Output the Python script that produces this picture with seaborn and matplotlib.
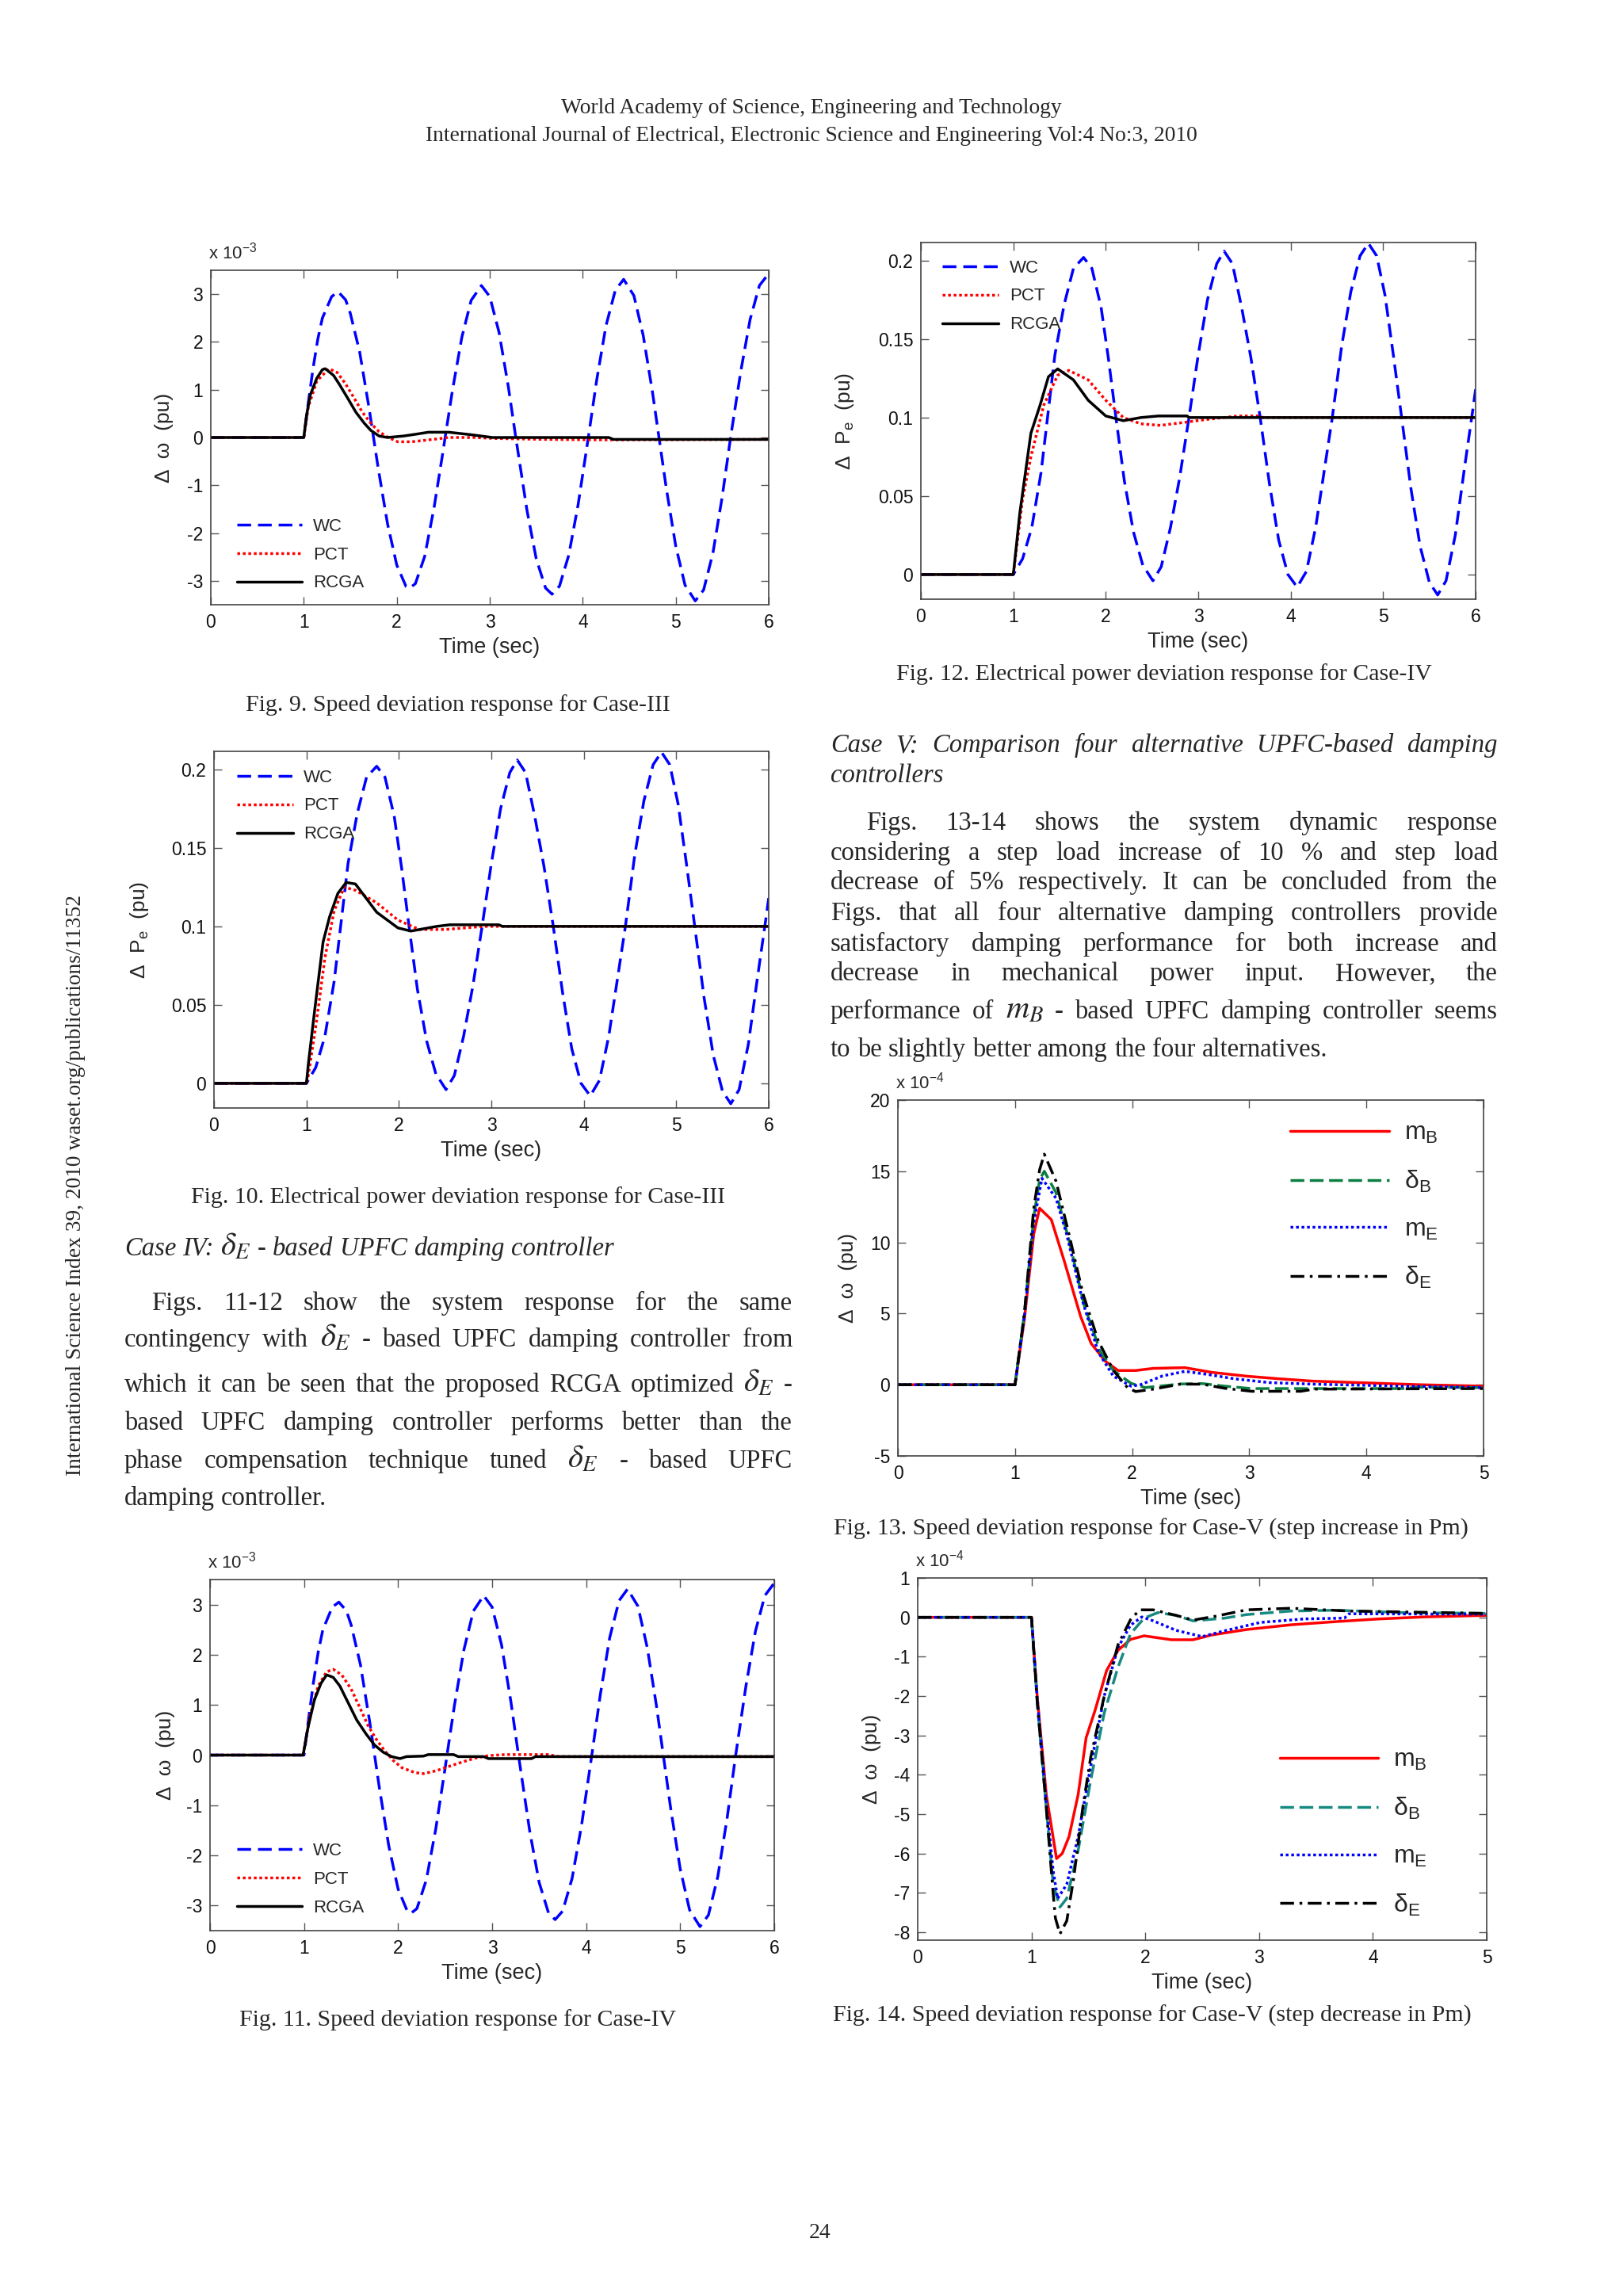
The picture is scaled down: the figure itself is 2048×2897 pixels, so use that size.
import matplotlib
matplotlib.use('Agg')
import matplotlib.pyplot as plt
import seaborn as sns

# page size in pixels (dpi 100)
W, H = 2048, 2897

# ---------------- data ----------------
# WC (no controller) speed deviation, x 1e-3 pu  (same curve in Fig. 9 and Fig. 11)
wc_dw_t = [0.0, 1.0, 1.05, 1.1, 1.15, 1.2, 1.3, 1.37, 1.45, 1.5, 1.6, 1.7, 1.75, 1.8, 1.9, 2.0, 2.1, 2.14, 2.2, 2.3,
           2.4, 2.5, 2.52, 2.6, 2.7, 2.8, 2.91, 3.0, 3.1, 3.2, 3.28, 3.4, 3.5, 3.6, 3.67, 3.75, 3.85, 3.95, 4.06, 4.15,
           4.25, 4.35, 4.44, 4.55, 4.65, 4.75, 4.82, 4.9, 5.0, 5.1, 5.21, 5.3, 5.4, 5.5, 5.59, 5.7, 5.8, 5.9, 6.0]
wc_dw = [0.0, 0.0, 0.75, 1.45, 2.05, 2.5, 2.95, 3.05, 2.88, 2.6, 1.8, 0.64, 0.0, -0.64, -1.8, -2.67, -3.12, -3.15, -3.06, -2.49,
         -1.48, -0.26, 0.0, 1.0, 2.1, 2.87, 3.18, 2.95, 2.2, 1.06, 0.0, -1.52, -2.54, -3.15, -3.28, -3.11, -2.46, -1.41, 0.0, 1.2,
         2.34, 3.08, 3.31, 2.97, 2.14, 0.95, 0.0, -1.08, -2.27, -3.09, -3.42, -3.19, -2.42, -1.24, 0.0, 1.39, 2.47, 3.18, 3.43]

# Fig. 9 (Case III) speed deviation
pct9_t = [0.0, 1.0, 1.05, 1.14, 1.27, 1.36, 1.45, 1.54, 1.63, 1.72, 1.81, 1.9, 2.01, 2.16, 2.39, 2.56, 2.83, 3.06, 3.59, 4.3, 6.0]
pct9 = [0.0, 0.0, 0.65, 1.18, 1.44, 1.36, 1.12, 0.83, 0.53, 0.3, 0.12, 0.01, -0.09, -0.09, -0.04, 0.0, 0.0, -0.02, -0.04, -0.05, -0.04]
rcga9_t = [0.0, 1.0, 1.03, 1.07, 1.14, 1.2, 1.23, 1.32, 1.38, 1.47, 1.56, 1.65, 1.72, 1.81, 1.9, 2.07, 2.21, 2.34, 2.56, 2.79,
           3.03, 4.28, 4.33, 6.0]
rcga9 = [0.0, 0.0, 0.47, 0.89, 1.24, 1.42, 1.44, 1.3, 1.12, 0.83, 0.53, 0.3, 0.15, 0.03, 0.0, 0.03, 0.07, 0.11, 0.11, 0.06,
         0.0, 0.0, -0.04, -0.04]

# Fig. 11 (Case IV) speed deviation
pct11_t = [0.0, 0.99, 1.06, 1.15, 1.24, 1.31, 1.4, 1.5, 1.59, 1.68, 1.77, 1.86, 1.95, 2.04, 2.18, 2.27, 2.41, 2.55, 2.68, 2.82,
           2.96, 3.14, 3.6, 3.7, 6.0]
pct11 = [0.0, 0.0, 0.76, 1.38, 1.66, 1.71, 1.6, 1.32, 0.96, 0.59, 0.31, 0.08, -0.11, -0.25, -0.35, -0.37, -0.31, -0.22, -0.14, -0.06,
         -0.01, 0.01, 0.01, -0.03, -0.03]
rcga11_t = [0.0, 0.99, 1.04, 1.11, 1.18, 1.24, 1.31, 1.38, 1.47, 1.56, 1.66, 1.75, 1.84, 1.93, 2.02, 2.09, 2.27, 2.32, 2.59, 2.64,
            2.91, 2.96, 3.42, 3.46, 6.0]
rcga11 = [0.0, 0.0, 0.53, 1.1, 1.43, 1.6, 1.55, 1.38, 1.04, 0.7, 0.42, 0.2, 0.06, -0.03, -0.07, -0.03, -0.02, 0.01, 0.01, -0.03,
          -0.03, -0.07, -0.07, -0.03, -0.03]

# WC electrical power deviation, pu (same curve in Fig. 10 and Fig. 12)
wc_pe_t = [0.0, 1.0, 1.1, 1.2, 1.3, 1.37, 1.45, 1.55, 1.65, 1.76, 1.85, 1.95, 2.03, 2.11, 2.2, 2.3, 2.4, 2.51, 2.6, 2.7,
           2.8, 2.9, 3.0, 3.1, 3.2, 3.28, 3.37, 3.47, 3.57, 3.67, 3.77, 3.87, 3.97, 4.07, 4.17, 4.27, 4.36, 4.45, 4.55, 4.65,
           4.75, 4.84, 4.93, 5.02, 5.11, 5.2, 5.3, 5.4, 5.5, 5.59, 5.68, 5.78, 5.88, 5.97, 6.0]
wc_pe = [0.0, 0.0, 0.01, 0.03, 0.065, 0.1, 0.14, 0.172, 0.195, 0.202, 0.195, 0.17, 0.137, 0.1, 0.06, 0.027, 0.006, -0.004, 0.005, 0.03,
         0.062, 0.1, 0.14, 0.175, 0.198, 0.206, 0.198, 0.17, 0.138, 0.1, 0.058, 0.022, 0.0, -0.008, 0.002, 0.03, 0.065, 0.1, 0.145, 0.18,
         0.203, 0.211, 0.203, 0.178, 0.14, 0.1, 0.055, 0.018, -0.005, -0.013, -0.004, 0.025, 0.068, 0.105, 0.118]

# Fig. 10 (Case III) power deviation
pct10_t = [0.0, 1.0, 1.02, 1.11, 1.2, 1.3, 1.41, 1.53, 1.76, 1.99, 2.22, 2.5, 2.92, 3.1, 6.0]
pct10 = [0.0, 0.0, 0.005, 0.04, 0.08, 0.11, 0.125, 0.123, 0.115, 0.104, 0.098, 0.098, 0.1, 0.1, 0.1]
rcga10_t = [0.0, 1.0, 1.02, 1.09, 1.18, 1.25, 1.34, 1.43, 1.53, 1.76, 1.99, 2.13, 2.41, 2.55, 3.08, 3.12, 6.0]
rcga10 = [0.0, 0.0, 0.012, 0.047, 0.09, 0.106, 0.121, 0.128, 0.127, 0.109, 0.099, 0.097, 0.1, 0.101, 0.101, 0.1, 0.1]

# Fig. 12 (Case IV) power deviation
pct12_t = [0.0, 1.0, 1.1, 1.19, 1.33, 1.48, 1.6, 1.81, 2.0, 2.19, 2.38, 2.59, 2.86, 3.12, 3.43, 3.66, 3.7, 6.0]
pct12 = [0.0, 0.0, 0.048, 0.075, 0.108, 0.127, 0.13, 0.124, 0.111, 0.1, 0.096, 0.095, 0.097, 0.099, 0.101, 0.101, 0.1, 0.1]
rcga12_t = [0.0, 1.0, 1.07, 1.19, 1.29, 1.38, 1.48, 1.65, 1.81, 2.0, 2.19, 2.38, 2.57, 2.88, 2.9, 6.0]
rcga12 = [0.0, 0.0, 0.039, 0.09, 0.108, 0.126, 0.131, 0.124, 0.111, 0.101, 0.098, 0.1, 0.101, 0.101, 0.1, 0.1]

# Fig. 13 (Case V, step increase) x 1e-4 pu
mb13_t = [0.0, 1.0, 1.08, 1.16, 1.21, 1.31, 1.42, 1.56, 1.65, 1.77, 1.88, 2.03, 2.18, 2.45, 2.68, 2.98, 3.25, 3.55, 3.93, 4.46, 5.0]
mb13 = [0.0, 0.0, 4.6, 10.6, 12.4, 11.6, 8.7, 4.8, 2.9, 1.66, 1.0, 1.0, 1.15, 1.2, 0.87, 0.6, 0.42, 0.25, 0.15, 0.0, -0.1]
db13_t = [0.0, 1.0, 1.08, 1.16, 1.21, 1.25, 1.35, 1.46, 1.59, 1.73, 1.84, 1.99, 2.11, 2.41, 2.6, 2.79, 3.02, 4.31, 4.46, 5.0]
db13 = [0.0, 0.0, 5.0, 11.8, 14.4, 15.0, 13.5, 10.2, 5.6, 2.3, 1.0, 0.1, -0.2, 0.05, 0.08, -0.1, -0.27, -0.27, -0.17, -0.2]
me13_t = [0.0, 1.0, 1.08, 1.16, 1.23, 1.35, 1.44, 1.58, 1.71, 1.84, 1.99, 2.07, 2.26, 2.45, 2.64, 2.87, 3.17, 3.55, 4.31, 5.0]
me13 = [0.0, 0.0, 4.8, 11.4, 14.5, 13.1, 10.6, 5.8, 2.3, 0.6, -0.1, 0.0, 0.62, 0.94, 0.73, 0.42, 0.15, 0.04, -0.1, -0.2]
de13_t = [0.0, 1.0, 1.08, 1.16, 1.21, 1.25, 1.35, 1.46, 1.58, 1.71, 1.84, 1.96, 2.03, 2.18, 2.41, 2.6, 2.79, 3.02, 3.44, 3.55, 5.0]
de13 = [0.0, 0.0, 5.0, 12.4, 15.1, 16.2, 14.3, 10.6, 6.4, 3.1, 1.0, -0.2, -0.48, -0.31, 0.04, 0.04, -0.25, -0.46, -0.46, -0.31, -0.27]

# Fig. 14 (Case V, step decrease) x 1e-4 pu
mb14_t = [0.0, 1.0, 1.05, 1.13, 1.22, 1.27, 1.33, 1.41, 1.48, 1.56, 1.66, 1.76, 1.87, 1.99, 2.23, 2.42, 2.58, 2.89, 3.28, 3.67,
          4.06, 4.45, 5.0]
mb14 = [0.0, 0.0, -2.0, -4.5, -6.13, -6.0, -5.57, -4.5, -3.06, -2.35, -1.35, -0.84, -0.56, -0.47, -0.57, -0.57, -0.45, -0.31, -0.19, -0.11,
        -0.04, 0.01, 0.05]
db14_t = [0.0, 1.0, 1.05, 1.13, 1.19, 1.25, 1.31, 1.41, 1.52, 1.64, 1.76, 1.87, 1.99, 2.11, 2.27, 2.42, 2.7, 2.89, 3.28, 3.67, 4.26, 5.0]
db14 = [0.0, 0.0, -2.13, -4.85, -6.78, -7.36, -7.14, -5.92, -4.14, -2.42, -1.27, -0.42, -0.02, 0.12, 0.05, -0.09, -0.02, 0.07, 0.16, 0.18, 0.12, 0.1]
me14_t = [0.0, 1.0, 1.05, 1.13, 1.19, 1.23, 1.31, 1.41, 1.52, 1.64, 1.76, 1.87, 1.97, 2.07, 2.27, 2.5, 2.7, 3.01, 3.4, 3.75, 3.79, 5.0]
me14 = [0.0, 0.0, -2.06, -4.71, -6.43, -7.14, -6.78, -5.57, -3.78, -1.99, -0.77, -0.2, 0.01, -0.09, -0.33, -0.49, -0.34, -0.13, -0.04, -0.02, 0.09, 0.08]
de14_t = [0.0, 1.0, 1.05, 1.13, 1.19, 1.21, 1.25, 1.31, 1.37, 1.45, 1.52, 1.64, 1.76, 1.87, 1.95, 2.07, 2.27, 2.42, 2.62, 2.89,
          3.28, 3.79, 5.0]
de14 = [0.0, 0.0, -2.13, -4.85, -7.0, -7.64, -8.04, -7.71, -6.64, -4.85, -3.56, -1.99, -0.7, -0.06, 0.19, 0.19, 0.05, -0.07, 0.03, 0.19,
        0.23, 0.16, 0.1]

# tick labels
dw_ticks = [-3, -2, -1, 0, 1, 2, 3]
pe_ticks = [0, 0.05, 0.1, 0.15, 0.2]
pe_ticklabels = ['0', '0.05', '0.1', '0.15', '0.2']
inc_ticks = [-5, 0, 5, 10, 15, 20]
dec_ticks = [-8, -7, -6, -5, -4, -3, -2, -1, 0, 1]

# ---------------- style ----------------
sns.set_theme(style='ticks')
plt.rcParams['font.family'] = ['Liberation Sans', 'DejaVu Sans']
plt.rcParams['mathtext.fontset'] = 'custom'
plt.rcParams['mathtext.rm'] = 'Liberation Sans'
plt.rcParams['mathtext.it'] = 'Liberation Sans:italic'

fig = plt.figure(figsize=(W / 100, H / 100), dpi=100)
fig.patch.set_facecolor('white')
renderer = fig.canvas.get_renderer()

LW = 2.5
wc_style = dict(color='#0000FF', linestyle=(0, (5, 2.5)), linewidth=LW)
pct_style = dict(color='#FF0000', linestyle=(0, (1, 1)), linewidth=LW)
rcga_style = dict(color='black', linestyle='-', linewidth=LW)


def new_axes(box):
    x0, x1, y0, y1 = box
    return fig.add_axes([x0 / W, 1 - y1 / H, (x1 - x0) / W, (y1 - y0) / H])


def finish(ax, box, xmax, ylim, yticks, yticklabels, ylabel, ylab_dx, expo=None):
    x0, x1, y0, y1 = box
    w, h = x1 - x0, y1 - y0
    ax.set_xlim(0, xmax)
    ax.set_ylim(ylim)
    ax.set_xticks(range(xmax + 1))
    ax.set_xticklabels([str(i) for i in range(xmax + 1)])
    ax.set_yticks(yticks)
    ax.set_yticklabels(yticklabels)
    ax.tick_params(axis='both', direction='in', length=7, width=1, top=True, right=True,
                   labelsize=16.5, color='#555555', labelcolor='#111111')
    ax.tick_params(axis='x', pad=8)
    ax.tick_params(axis='y', pad=7)
    for s in ax.spines.values():
        s.set_visible(True)
        s.set_linewidth(1.2)
        s.set_color('#444444')
    ax.set_xlabel('Time (sec)', fontsize=19.5, va='center')
    ax.xaxis.set_label_coords(0.5, -54 / h)
    ax.set_ylabel(ylabel, fontsize=19, va='center')
    ax.yaxis.set_label_coords(-ylab_dx / w, 0.5)
    if expo:
        ax.annotate(expo, xy=(0, 1), xycoords='axes fraction', xytext=(-2, 7),
                    textcoords='offset points', ha='left', va='bottom', fontsize=16)


def legend(ax, loc, anchor, fs, hl, ls):
    ax.legend(loc=loc, bbox_to_anchor=anchor, frameon=False, fontsize=fs, handlelength=hl,
              handletextpad=0.6, labelspacing=ls, borderpad=0, borderaxespad=0)


def three_lines(ax, wc_t, wc, p_t, p, r_t, r):
    sns.lineplot(x=wc_t, y=wc, ax=ax, label='WC', errorbar=None, **wc_style)
    sns.lineplot(x=p_t, y=p, ax=ax, label='PCT', errorbar=None, **pct_style)
    sns.lineplot(x=r_t, y=r, ax=ax, label='RCGA', errorbar=None, **rcga_style)


def four_lines(ax, data, green):
    styles = [dict(color='#FF0000', linestyle='-', linewidth=LW),
              dict(color=green, linestyle=(0, (5, 2)), linewidth=LW),
              dict(color='#0000FF', linestyle=(0, (1, 1)), linewidth=LW),
              dict(color='black', linestyle=(0, (5, 2, 1, 2)), linewidth=LW)]
    labels = ['m$_\\mathrm{B}$', 'δ$_\\mathrm{B}$', 'm$_\\mathrm{E}$', 'δ$_\\mathrm{E}$']
    for (t, v), st, lab in zip(data, styles, labels):
        sns.lineplot(x=t, y=v, ax=ax, label=lab, errorbar=None, **st)


dw_label = 'Δ  ω  (pu)'
pe_label = 'Δ  P$_\\mathrm{e}$  (pu)'

# Fig. 9
box9 = (266, 970, 341, 763)
ax9 = new_axes(box9)
three_lines(ax9, wc_dw_t, wc_dw, pct9_t, pct9, rcga9_t, rcga9)
finish(ax9, box9, 6, (-3.5, 3.5), dw_ticks, [str(v) for v in dw_ticks], dw_label, 59, 'x 10$^{-3}$')
legend(ax9, 'upper left', (0.047, 0.259), 16, 3.7, 0.67)

# Fig. 12
box12 = (1162, 1862, 306, 756)
ax12 = new_axes(box12)
three_lines(ax12, wc_pe_t, wc_pe, pct12_t, pct12, rcga12_t, rcga12)
finish(ax12, box12, 6, (-0.0157, 0.2115), pe_ticks, pe_ticklabels, pe_label, 96)
legend(ax12, 'upper left', (0.039, 0.952), 16, 3.2, 0.67)

# Fig. 10
box10 = (270, 970, 948, 1398)
ax10 = new_axes(box10)
three_lines(ax10, wc_pe_t, wc_pe, pct10_t, pct10, rcga10_t, rcga10)
finish(ax10, box10, 6, (-0.0157, 0.2115), pe_ticks, pe_ticklabels, pe_label, 94)
legend(ax10, 'upper left', (0.041, 0.950), 16, 3.2, 0.67)

# Fig. 13
box13 = (1133, 1872, 1388, 1837)
ax13 = new_axes(box13)
four_lines(ax13, [(mb13_t, mb13), (db13_t, db13), (me13_t, me13), (de13_t, de13)], '#0B7F40')
finish(ax13, box13, 5, (-5, 20), inc_ticks, [str(v) for v in inc_ticks], dw_label, 63, 'x 10$^{-4}$')
legend(ax13, 'upper left', (0.67, 0.940), 23, 3.9, 0.93)

# Fig. 11
box11 = (265, 977, 1993, 2436)
ax11 = new_axes(box11)
three_lines(ax11, wc_dw_t, wc_dw, pct11_t, pct11, rcga11_t, rcga11)
finish(ax11, box11, 6, (-3.5, 3.5), dw_ticks, [str(v) for v in dw_ticks], dw_label, 56, 'x 10$^{-3}$')
legend(ax11, 'upper left', (0.048, 0.250), 16, 3.7, 0.67)

# Fig. 14
box14 = (1158, 1876, 1991, 2448)
ax14 = new_axes(box14)
four_lines(ax14, [(mb14_t, mb14), (db14_t, db14), (me14_t, me14), (de14_t, de14)], '#168A80')
finish(ax14, box14, 5, (-8.2, 1), dec_ticks, [str(v) for v in dec_ticks], dw_label, 58, 'x 10$^{-4}$')
legend(ax14, 'lower left', (0.636, 0.062), 23, 3.9, 0.93)

# ---------------- page text ----------------
SERIF = 'Liberation Serif'
BODY = 23.5


def put_line(text, x0, x1, yc, size=BODY, style='normal', justify=False, indent=0):
    words = text.split(' ')
    arts = []
    for wd in words:
        if wd.startswith('$'):
            a = fig.text(0, 0, wd, fontsize=size * 1.25, family=SERIF, math_fontfamily='stix', va='baseline')
        else:
            a = fig.text(0, 0, wd, fontsize=size, family=SERIF, style=style, va='baseline')
        arts.append(a)
    widths = [a.get_window_extent(renderer).width for a in arts]
    start = x0 + indent
    if justify and len(arts) > 1:
        gap = (x1 - start - sum(widths)) / (len(arts) - 1)
    else:
        gap = size * 100 / 72 * 0.25
    x = start
    for a, wd in zip(arts, widths):
        a.set_position((x / W, 1 - (yc + 8) / H))
        x += wd + gap


def centred(text, xc, yc, size=21.5):
    fig.text(xc / W, 1 - (yc + 8) / H, text, ha='center', va='baseline', fontsize=size, family=SERIF)


centred('World Academy of Science, Engineering and Technology', 1024, 135, 19.8)
centred('International Journal of Electrical, Electronic Science and Engineering Vol:4 No:3, 2010', 1024, 170, 19.8)

centred('Fig. 9. Speed deviation response for Case-III', 578, 889)
centred('Fig. 12. Electrical power deviation response for Case-IV', 1469, 850)
centred('Fig. 10. Electrical power deviation response for Case-III', 578, 1510)
centred('Fig. 13. Speed deviation response for Case-V (step increase in Pm)', 1452, 1929)
centred('Fig. 11. Speed deviation response for Case-IV', 578, 2548)
centred('Fig. 14. Speed deviation response for Case-V (step decrease in Pm)', 1454, 2543)
centred('24', 1035, 2816, 20)

fig.text(96 / W, 1 - 1495 / H, 'International Science Index 39, 2010 waset.org/publications/11352',
         rotation=90, ha='center', va='center', fontsize=19.7, family=SERIF)

# right column: Case V
RX0, RX1 = 1048, 1890
put_line('Case V: Comparison four alternative UPFC-based damping', RX0, RX1, 941, style='italic', justify=True)
put_line('controllers', RX0, RX1, 979, style='italic')
right_lines = [
    'Figs. 13-14 shows the system dynamic response',
    'considering a step load increase of 10 % and step load',
    'decrease of 5% respectively. It can be concluded from the',
    'Figs. that all four alternative damping controllers provide',
    'satisfactory damping performance for both increase and',
    'decrease in mechanical power input. However, the',
    'performance of $m_B$ - based UPFC damping controller seems',
    'to be slightly better among the four alternatives.',
]
right_y = [1039, 1077, 1114, 1153, 1192, 1229, 1277, 1325]
for i, (s, y) in enumerate(zip(right_lines, right_y)):
    put_line(s, RX0, RX1, y, justify=(i < len(right_lines) - 1), indent=(45 if i == 0 else 0))

# left column: Case IV
LX0, LX1 = 157, 1000
put_line('Case IV: $\\delta_E$ - based UPFC damping controller', LX0, LX1, 1576, style='italic')
left_lines = [
    'Figs. 11-12 show the system response for the same',
    'contingency with $\\delta_E$ - based UPFC damping controller from',
    'which it can be seen that the proposed RCGA optimized $\\delta_E$ -',
    'based UPFC damping controller performs better than the',
    'phase compensation technique tuned $\\delta_E$ - based UPFC',
    'damping controller.',
]
left_y = [1645, 1691, 1748, 1796, 1844, 1891]
for i, (s, y) in enumerate(zip(left_lines, left_y)):
    put_line(s, LX0, LX1, y, justify=(i < len(left_lines) - 1), indent=(34 if i == 0 else 0))

fig.savefig('out.png', dpi=100, facecolor='white')
